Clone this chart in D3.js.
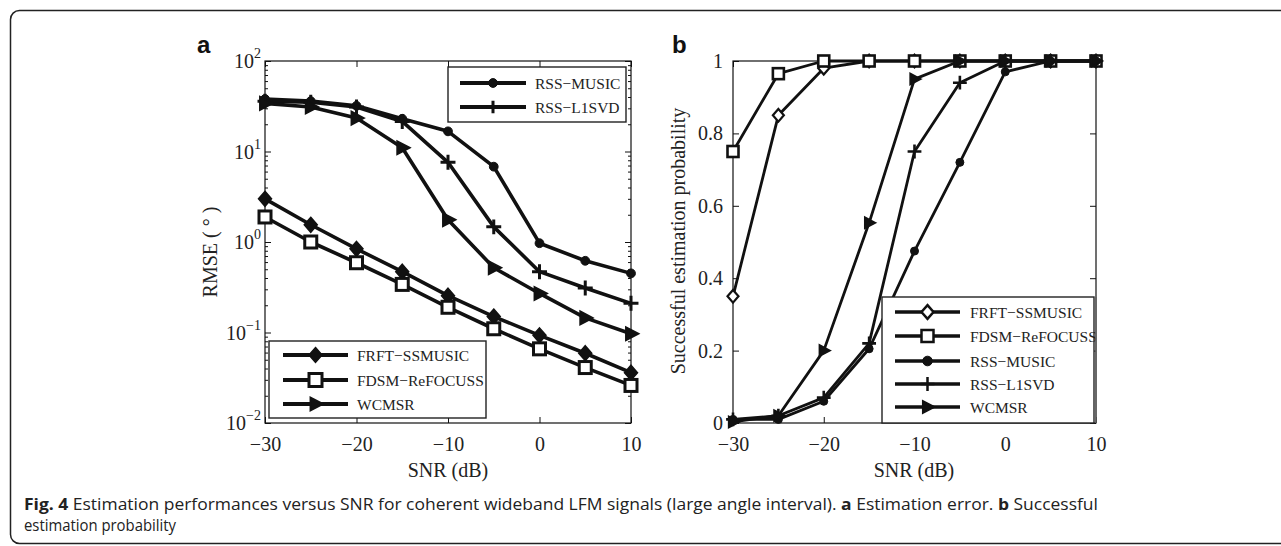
<!DOCTYPE html>
<html>
<head>
<meta charset="utf-8">
<script src="https://cdn.jsdelivr.net/npm/d3@7"></script>
<style>
  html, body { margin: 0; padding: 0; background: #fff; }
  svg { display: block; }
</style>
</head>
<body>
<svg id="fig" width="1281" height="546"></svg>
<script>
// SNR sweep shared by both panels
const snr = [-30, -25, -20, -15, -10, -5, 0, 5, 10];
const xTicks = [-30, -20, -10, 0, 10];

// Panel a: RMSE (degrees)
const rmseFrft  = [3.0, 1.55, 0.84, 0.47, 0.255, 0.15, 0.093, 0.059, 0.036];
const rmseFdsm  = [1.89, 1.0, 0.59, 0.34, 0.19, 0.11, 0.066, 0.041, 0.026];
const rmseMusic = [38, 36, 32, 23, 16.7, 6.8, 0.97, 0.62, 0.45];
const rmseL1svd = [36, 35, 31, 21.5, 7.6, 1.47, 0.47, 0.31, 0.21];
const rmseWcmsr = [34, 31, 23.4, 11, 1.76, 0.52, 0.27, 0.145, 0.097];
const rmseTicks = [0.01, 0.1, 1, 10, 100];

// Panel b: successful estimation probability
const probFrft  = [0.35, 0.85, 0.98, 1, 1, 1, 1, 1, 1];
const probFdsm  = [0.75, 0.965, 1, 1, 1, 1, 1, 1, 1];
const probMusic = [0.01, 0.01, 0.06, 0.205, 0.475, 0.72, 0.97, 1, 1];
const probL1svd = [0.01, 0.02, 0.07, 0.22, 0.75, 0.94, 1, 1, 1];
const probWcmsr = [0.003, 0.02, 0.2, 0.553, 0.95, 1, 1, 1, 1];
const probTicks = [0, 0.2, 0.4, 0.6, 0.8, 1];

const svg = d3.select("#fig");
const serif = "'Liberation Serif', 'Times New Roman', serif";
const tickFont = 20;
const labelFont = 20;
const legendFont = 15.5;

// outer figure frame (rounded on the left, runs off the right edge)
svg.append("rect")
  .attr("x", 10.5).attr("y", 10.5).attr("width", 1320).attr("height", 533)
  .attr("rx", 9).attr("fill", "none").attr("stroke", "#222").attr("stroke-width", 1.5);

// ---------- marker shapes ----------
function drawMarker(g, kind, x, y, s, sw) {
  if (kind === "circle") {
    g.append("circle").attr("cx", x).attr("cy", y).attr("r", s * 0.8)
      .attr("fill", "#111").attr("stroke", "#111").attr("stroke-width", 1);
  } else if (kind === "square") {
    g.append("rect").attr("x", x - s).attr("y", y - s).attr("width", 2 * s).attr("height", 2 * s)
      .attr("fill", "#fff").attr("stroke", "#111").attr("stroke-width", sw);
  } else if (kind === "diamond") {
    g.append("path").attr("d", `M${x},${y - s * 1.15}L${x + s},${y}L${x},${y + s * 1.15}L${x - s},${y}Z`)
      .attr("fill", "#111").attr("stroke", "#111").attr("stroke-width", 1.5);
  } else if (kind === "diamondOpen") {
    g.append("path").attr("d", `M${x},${y - s * 1.15}L${x + s},${y}L${x},${y + s * 1.15}L${x - s},${y}Z`)
      .attr("fill", "#fff").attr("stroke", "#111").attr("stroke-width", sw);
  } else if (kind === "plus") {
    g.append("path").attr("d", `M${x - s * 1.15},${y}H${x + s * 1.15}M${x},${y - s * 1.15}V${y + s * 1.15}`)
      .attr("fill", "none").attr("stroke", "#111").attr("stroke-width", sw);
  } else if (kind === "tri") {
    g.append("path").attr("d", `M${x + s * 1.2},${y}L${x - s * 0.8},${y - s * 1.05}L${x - s * 0.8},${y + s * 1.05}Z`)
      .attr("fill", "#111").attr("stroke", "#111").attr("stroke-width", 1.5).attr("stroke-linejoin", "miter");
  }
}

// ---------- MATLAB-style box ----------
function frame(g, x, y, w, h) {
  g.append("rect").attr("x", x).attr("y", y).attr("width", w).attr("height", h)
    .attr("fill", "none").attr("stroke", "#111").attr("stroke-width", 1.2);
}

function series(g, xs, ys, vals, kind, lw, ms, msw) {
  const line = d3.line().x((d, i) => xs(snr[i])).y(d => ys(d));
  g.append("path").datum(vals).attr("d", line)
    .attr("fill", "none").attr("stroke", "#111").attr("stroke-width", lw)
    .attr("stroke-linejoin", "round");
  vals.forEach((v, i) => drawMarker(g, kind, xs(snr[i]), ys(v), ms, msw));
}

function legend(g, x0, y0, w, h, items, rowY, sampleX0, sampleX1, textX, lw, ms, msw) {
  g.append("rect").attr("x", x0).attr("y", y0).attr("width", w).attr("height", h)
    .attr("fill", "#fff").attr("stroke", "#222").attr("stroke-width", 1.4);
  items.forEach((it, i) => {
    const yy = rowY[i];
    g.append("line").attr("x1", sampleX0).attr("x2", sampleX1).attr("y1", yy).attr("y2", yy)
      .attr("stroke", "#111").attr("stroke-width", lw);
    drawMarker(g, it.kind, (sampleX0 + sampleX1) / 2, yy, ms, msw);
    g.append("text").attr("x", textX).attr("y", yy + 5.5)
      .attr("font-family", serif).attr("font-size", legendFont).attr("fill", "#222").text(it.name);
  });
}

const minusFmt = d => d < 0 ? "\u2212" + (-d) : d;

// ================= Panel a =================
{
  const L = 265, T = 61, R = 631, B = 423;
  const x = d3.scaleLinear().domain([-30, 10]).range([L, R]);
  const y = d3.scaleLog().domain([0.01, 100]).range([B, T]);
  const g = svg.append("g");

  // major ticks, inward, on all four sides
  const ax = g.append("g").attr("transform", `translate(0,${B})`)
    .call(d3.axisBottom(x).tickValues(xTicks).tickSize(-6).tickFormat(minusFmt).tickPadding(14));
  g.append("g").attr("transform", `translate(0,${T})`)
    .call(d3.axisTop(x).tickValues(xTicks).tickSize(-6).tickFormat(""));
  const minor = [];
  for (let e = -2; e < 2; e++) for (let k = 2; k <= 9; k++) minor.push(k * Math.pow(10, e));
  g.append("g").attr("transform", `translate(${L},0)`)
    .call(d3.axisLeft(y).tickValues(rmseTicks).tickSize(-6).tickFormat(""));
  g.append("g").attr("transform", `translate(${L},0)`)
    .call(d3.axisLeft(y).tickValues(minor).tickSize(-3).tickFormat(""));
  g.append("g").attr("transform", `translate(${R},0)`)
    .call(d3.axisRight(y).tickValues(rmseTicks).tickSize(-6).tickFormat(""));
  g.append("g").attr("transform", `translate(${R},0)`)
    .call(d3.axisRight(y).tickValues(minor).tickSize(-3).tickFormat(""));
  g.selectAll(".domain").remove();
  g.selectAll(".tick line").attr("stroke", "#111").attr("stroke-width", 1);
  ax.selectAll("text").attr("font-family", serif).attr("font-size", tickFont).attr("fill", "#222");

  // 10^n labels
  rmseTicks.forEach(v => {
    const e = Math.round(Math.log10(v));
    const t = g.append("text").attr("x", L - 4).attr("y", y(v) + 7)
      .attr("text-anchor", "end").attr("font-family", serif).attr("font-size", tickFont).attr("fill", "#222");
    t.append("tspan").text("10");
    t.append("tspan").attr("dy", -10).attr("font-size", 14).text(e < 0 ? "\u2212" + (-e) : e);
  });
  frame(g, L, T, R - L, B - T);

  series(g, x, y, rmseMusic, "circle", 3.6, 5.5, 2);
  series(g, x, y, rmseL1svd, "plus", 3.6, 6.5, 3);
  series(g, x, y, rmseWcmsr, "tri", 3.6, 6.5, 2);
  series(g, x, y, rmseFrft, "diamond", 3.6, 6.5, 2);
  series(g, x, y, rmseFdsm, "square", 3.6, 6, 3);

  legend(g, 448, 67, 178, 55,
    [{ name: "RSS\u2212MUSIC", kind: "circle" }, { name: "RSS\u2212L1SVD", kind: "plus" }],
    [83, 107], 460, 526, 535, 4, 5.5, 3);
  legend(g, 269, 341, 217, 77,
    [{ name: "FRFT\u2212SSMUSIC", kind: "diamond" }, { name: "FDSM\u2212ReFOCUSS", kind: "square" }, { name: "WCMSR", kind: "tri" }],
    [355, 380, 404], 283, 348, 357, 4, 6.5, 3);

  g.append("text").attr("x", 448).attr("y", 477).attr("text-anchor", "middle")
    .attr("font-family", serif).attr("font-size", labelFont).attr("fill", "#222").text("SNR (dB)");
  g.append("text").attr("transform", "translate(217,252) rotate(-90)").attr("text-anchor", "middle")
    .attr("font-family", serif).attr("font-size", labelFont).attr("fill", "#222").text("RMSE ( \u00B0 )");
  g.append("text").attr("x", 197).attr("y", 53)
    .attr("font-family", "'Liberation Sans', Arial, sans-serif").attr("font-weight", "bold")
    .attr("font-size", 24).attr("fill", "#111").text("a");
}

// ================= Panel b =================
{
  const L = 733, T = 61, R = 1096, B = 423;
  const x = d3.scaleLinear().domain([-30, 10]).range([L, R]);
  const y = d3.scaleLinear().domain([0, 1]).range([B, T]);
  const g = svg.append("g");

  g.append("g").attr("transform", `translate(0,${B})`)
    .call(d3.axisBottom(x).tickValues(xTicks).tickSize(-6).tickFormat(minusFmt).tickPadding(14));
  g.append("g").attr("transform", `translate(0,${T})`)
    .call(d3.axisTop(x).tickValues(xTicks).tickSize(-6).tickFormat(""));
  g.append("g").attr("transform", `translate(${L},0)`)
    .call(d3.axisLeft(y).tickValues(probTicks).tickSize(-6).tickFormat(d => d).tickPadding(10));
  g.append("g").attr("transform", `translate(${R},0)`)
    .call(d3.axisRight(y).tickValues(probTicks).tickSize(-6).tickFormat(""));
  g.selectAll(".domain").remove();
  g.selectAll(".tick line").attr("stroke", "#111").attr("stroke-width", 1);
  g.selectAll("text").attr("font-family", serif).attr("font-size", tickFont).attr("fill", "#222");
  frame(g, L, T, R - L, B - T);

  series(g, x, y, probFrft, "diamondOpen", 2.8, 5.5, 2.2);
  series(g, x, y, probFdsm, "square", 2.8, 5.5, 2.6);
  series(g, x, y, probMusic, "circle", 2.8, 5, 2);
  series(g, x, y, probL1svd, "plus", 2.8, 6, 2.6);
  series(g, x, y, probWcmsr, "tri", 2.8, 5.5, 2);

  legend(g, 882, 297, 212, 126,
    [{ name: "FRFT\u2212SSMUSIC", kind: "diamondOpen" }, { name: "FDSM\u2212ReFOCUSS", kind: "square" },
     { name: "RSS\u2212MUSIC", kind: "circle" }, { name: "RSS\u2212L1SVD", kind: "plus" }, { name: "WCMSR", kind: "tri" }],
    [312, 336, 361, 384, 407], 895, 960, 970, 3.5, 6, 2.5);
  g.append("line").attr("x1", 1096).attr("x2", 1096).attr("y1", 297).attr("y2", 423)
    .attr("stroke", "#666").attr("stroke-width", 1.5);

  g.append("text").attr("x", 914).attr("y", 477).attr("text-anchor", "middle")
    .attr("font-family", serif).attr("font-size", labelFont).attr("fill", "#222").text("SNR (dB)");
  g.append("text").attr("transform", "translate(685,241) rotate(-90)").attr("text-anchor", "middle")
    .attr("font-family", serif).attr("font-size", labelFont).attr("fill", "#222").text("Successful estimation probability");
  g.append("text").attr("x", 672).attr("y", 53)
    .attr("font-family", "'Liberation Sans', Arial, sans-serif").attr("font-weight", "bold")
    .attr("font-size", 24).attr("fill", "#111").text("b");
}

// ================= caption =================
{
  const sans = "'Open Sans', 'Noto Sans', sans-serif";
  const c1 = svg.append("text").attr("x", 24).attr("y", 510)
    .attr("font-family", sans).attr("font-size", 16).attr("fill", "#222")
    .attr("textLength", 1074).attr("lengthAdjust", "spacingAndGlyphs");
  c1.append("tspan").attr("font-weight", "bold").text("Fig. 4");
  c1.append("tspan").text(" Estimation performances versus SNR for coherent wideband LFM signals (large angle interval). ");
  c1.append("tspan").attr("font-weight", "bold").text("a");
  c1.append("tspan").text(" Estimation error. ");
  c1.append("tspan").attr("font-weight", "bold").text("b");
  c1.append("tspan").text(" Successful");
  svg.append("text").attr("x", 24).attr("y", 531)
    .attr("font-family", sans).attr("font-size", 16).attr("fill", "#222")
    .attr("textLength", 152).attr("lengthAdjust", "spacingAndGlyphs")
    .text("estimation probability");
}
</script>
</body>
</html>
